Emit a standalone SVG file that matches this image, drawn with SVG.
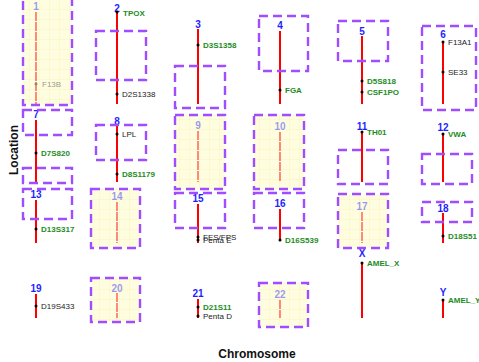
<svg xmlns="http://www.w3.org/2000/svg" width="479" height="362" viewBox="0 0 479 362">
  <style>
    .num { font-family: "Liberation Sans", Arial, sans-serif; font-size: 10px; font-weight: bold; fill: #1f1fff; text-anchor: middle; }
    .chr { stroke: #ff0000; stroke-width: 2; }
    .dot { fill: #000; }
    .mk { font-family: "Liberation Sans", Arial, sans-serif; font-size: 8px; fill: #222; }
    .mk.g { fill: #1e8c1e; font-weight: bold; }
    .box { fill: none; stroke: #a04dff; stroke-width: 2.4; stroke-dasharray: 9 5; }
    .hl { fill: url(#grid); }
    .dim { opacity: 0.45; }
    .dim .chr { stroke-dasharray: 9 1; }
    .axis { font-family: "Liberation Sans", Arial, sans-serif; font-size: 12px; font-weight: bold; fill: #111; text-anchor: middle; }
  </style>
  <defs>
    <pattern id="grid" width="10" height="10" patternUnits="userSpaceOnUse">
      <rect width="10" height="10" fill="#fffde0"/>
      <path d="M10 0V10M0 10H10" stroke="#f6f0b8" stroke-width="0.8" fill="none"/>
    </pattern>
  </defs>

  <rect width="479" height="362" fill="#fff"/>

  <!-- highlighted regions (filled) -->
  <g id="regions-filled">
    <rect class="hl" x="23" y="-10" width="49" height="115"/>
    <rect class="hl" x="91" y="189" width="49" height="59"/>
    <rect class="hl" x="175" y="115" width="50" height="74"/>
    <rect class="hl" x="254" y="115" width="50" height="74"/>
    <rect class="hl" x="338" y="194" width="50" height="54"/>
    <rect class="hl" x="91" y="278" width="49" height="44"/>
    <rect class="hl" x="259" y="283" width="49" height="44"/>
  </g>

  <!-- row 1 -->
  <g id="chr1" class="dim">
    <text class="num" x="36" y="10">1</text>
    <line class="chr" x1="36" y1="12" x2="36" y2="104"/>
    <circle class="dot" cx="36" cy="84" r="1.5"/>
    <text class="mk" x="42" y="87">F13B</text>
  </g>
  <g id="chr2">
    <text class="num" x="117" y="12">2</text>
    <line class="chr" x1="117" y1="12" x2="117" y2="104"/>
    <circle class="dot" cx="117" cy="12" r="1.5"/>
    <text class="mk g" x="123" y="16">TPOX</text>
    <circle class="dot" cx="117" cy="94" r="1.5"/>
    <text class="mk" x="122" y="97">D2S1338</text>
  </g>
  <g id="chr3">
    <text class="num" x="198" y="28">3</text>
    <line class="chr" x1="198" y1="29" x2="198" y2="104"/>
    <circle class="dot" cx="198" cy="45" r="1.5"/>
    <text class="mk g" x="203" y="48">D3S1358</text>
  </g>
  <g id="chr4">
    <text class="num" x="280" y="29">4</text>
    <line class="chr" x1="280" y1="31" x2="280" y2="104"/>
    <circle class="dot" cx="280" cy="90" r="1.5"/>
    <text class="mk g" x="285" y="93">FGA</text>
  </g>
  <g id="chr5">
    <text class="num" x="362" y="35">5</text>
    <line class="chr" x1="362" y1="36" x2="362" y2="104"/>
    <circle class="dot" cx="362" cy="81" r="1.5"/>
    <text class="mk g" x="367" y="84">D5S818</text>
    <circle class="dot" cx="362" cy="92" r="1.5"/>
    <text class="mk g" x="367" y="95">CSF1PO</text>
  </g>
  <g id="chr6">
    <text class="num" x="443" y="38">6</text>
    <line class="chr" x1="443" y1="42" x2="443" y2="104"/>
    <circle class="dot" cx="443" cy="42" r="1.5"/>
    <text class="mk" x="448" y="45">F13A1</text>
    <circle class="dot" cx="443" cy="72" r="1.5"/>
    <text class="mk" x="448" y="75">SE33</text>
  </g>

  <!-- row 2 -->
  <g id="chr7">
    <text class="num" x="36" y="118">7</text>
    <line class="chr" x1="36" y1="120" x2="36" y2="182"/>
    <circle class="dot" cx="36" cy="153" r="1.5"/>
    <text class="mk g" x="41" y="156">D7S820</text>
  </g>
  <g id="chr8">
    <text class="num" x="117" y="125">8</text>
    <line class="chr" x1="117" y1="125" x2="117" y2="182"/>
    <circle class="dot" cx="117" cy="134" r="1.5"/>
    <text class="mk" x="122" y="137">LPL</text>
    <circle class="dot" cx="117" cy="174" r="1.5"/>
    <text class="mk g" x="122" y="177">D8S1179</text>
  </g>
  <g id="chr9" class="dim">
    <text class="num" x="198" y="129">9</text>
    <line class="chr" x1="198" y1="131" x2="198" y2="182"/>
  </g>
  <g id="chr10" class="dim">
    <text class="num" x="280" y="130">10</text>
    <line class="chr" x1="280" y1="132" x2="280" y2="182"/>
  </g>
  <g id="chr11">
    <text class="num" x="362" y="130">11</text>
    <line class="chr" x1="362" y1="132" x2="362" y2="182"/>
    <circle class="dot" cx="362" cy="132" r="1.5"/>
    <text class="mk g" x="367" y="135">TH01</text>
  </g>
  <g id="chr12">
    <text class="num" x="443" y="131">12</text>
    <line class="chr" x1="443" y1="134" x2="443" y2="182"/>
    <circle class="dot" cx="443" cy="134" r="1.5"/>
    <text class="mk g" x="448" y="137">VWA</text>
  </g>

  <!-- row 3 -->
  <g id="chr13">
    <text class="num" x="36" y="198">13</text>
    <line class="chr" x1="36" y1="200" x2="36" y2="243"/>
    <circle class="dot" cx="36" cy="229" r="1.5"/>
    <text class="mk g" x="41" y="232">D13S317</text>
  </g>
  <g id="chr14" class="dim">
    <text class="num" x="117" y="200">14</text>
    <line class="chr" x1="117" y1="202" x2="117" y2="243"/>
  </g>
  <g id="chr15">
    <text class="num" x="198" y="202">15</text>
    <line class="chr" x1="198" y1="204" x2="198" y2="243"/>
    <circle class="dot" cx="198" cy="237" r="1.5"/>
    <text class="mk" x="203" y="240">FES/FPS</text>
    <circle class="dot" cx="198" cy="240" r="1.5"/>
    <text class="mk" x="203" y="243">Penta E</text>
  </g>
  <g id="chr16">
    <text class="num" x="280" y="207">16</text>
    <line class="chr" x1="280" y1="209" x2="280" y2="240"/>
    <circle class="dot" cx="280" cy="240" r="1.5"/>
    <text class="mk g" x="285" y="243">D16S539</text>
  </g>
  <g id="chr17" class="dim">
    <text class="num" x="362" y="210">17</text>
    <line class="chr" x1="362" y1="212" x2="362" y2="243"/>
  </g>
  <g id="chr18">
    <text class="num" x="443" y="212">18</text>
    <line class="chr" x1="443" y1="213" x2="443" y2="243"/>
    <circle class="dot" cx="443" cy="236" r="1.5"/>
    <text class="mk g" x="448" y="239">D18S51</text>
  </g>

  <!-- row 4 -->
  <g id="chr19">
    <text class="num" x="36" y="292">19</text>
    <line class="chr" x1="36" y1="294" x2="36" y2="318"/>
    <circle class="dot" cx="36" cy="306" r="1.5"/>
    <text class="mk" x="41" y="309">D19S433</text>
  </g>
  <g id="chr20" class="dim">
    <text class="num" x="117" y="292">20</text>
    <line class="chr" x1="117" y1="293" x2="117" y2="318"/>
  </g>
  <g id="chr21">
    <text class="num" x="198" y="297">21</text>
    <line class="chr" x1="198" y1="299" x2="198" y2="318"/>
    <circle class="dot" cx="198" cy="307" r="1.5"/>
    <text class="mk g" x="203" y="310">D21S11</text>
    <circle class="dot" cx="198" cy="316" r="1.5"/>
    <text class="mk" x="203" y="319">Penta D</text>
  </g>
  <g id="chr22" class="dim">
    <text class="num" x="280" y="298">22</text>
    <line class="chr" x1="280" y1="300" x2="280" y2="318"/>
  </g>
  <g id="chrX">
    <text class="num" x="362" y="257">X</text>
    <line class="chr" x1="362" y1="263" x2="362" y2="318"/>
    <circle class="dot" cx="362" cy="263" r="1.5"/>
    <text class="mk g" x="367" y="266">AMEL_X</text>
  </g>
  <g id="chrY">
    <text class="num" x="443" y="296">Y</text>
    <line class="chr" x1="443" y1="300" x2="443" y2="318"/>
    <circle class="dot" cx="443" cy="300" r="1.5"/>
    <text class="mk g" x="448" y="303">AMEL_Y</text>
  </g>

  <!-- dashed selection outlines -->
  <g id="outlines">
    <rect class="box" x="23" y="-10" width="49" height="115"/>
    <rect class="box" x="96" y="31" width="50" height="49"/>
    <rect class="box" x="175" y="66" width="50" height="42"/>
    <rect class="box" x="259" y="16" width="49" height="55"/>
    <rect class="box" x="338" y="21" width="50" height="40"/>
    <rect class="box" x="422" y="26" width="54" height="84"/>
    <rect class="box" x="23" y="110" width="49" height="25"/>
    <rect class="box" x="23" y="168" width="49" height="15"/>
    <rect class="box" x="96" y="125" width="50" height="35"/>
    <rect class="box" x="175" y="115" width="50" height="74"/>
    <rect class="box" x="254" y="115" width="50" height="74"/>
    <rect class="box" x="338" y="150" width="50" height="34"/>
    <rect class="box" x="422" y="154" width="50" height="30"/>
    <rect class="box" x="23" y="189" width="49" height="30"/>
    <rect class="box" x="91" y="189" width="49" height="59"/>
    <rect class="box" x="175" y="193" width="50" height="35"/>
    <rect class="box" x="254" y="193" width="50" height="35"/>
    <rect class="box" x="338" y="194" width="50" height="54"/>
    <rect class="box" x="422" y="202" width="50" height="20"/>
    <rect class="box" x="91" y="278" width="49" height="44"/>
    <rect class="box" x="259" y="283" width="49" height="44"/>
  </g>

  <!-- axis titles -->
  <text class="axis" x="257" y="358">Chromosome</text>
  <text class="axis" transform="translate(18 150) rotate(-90)">Location</text>
</svg>
